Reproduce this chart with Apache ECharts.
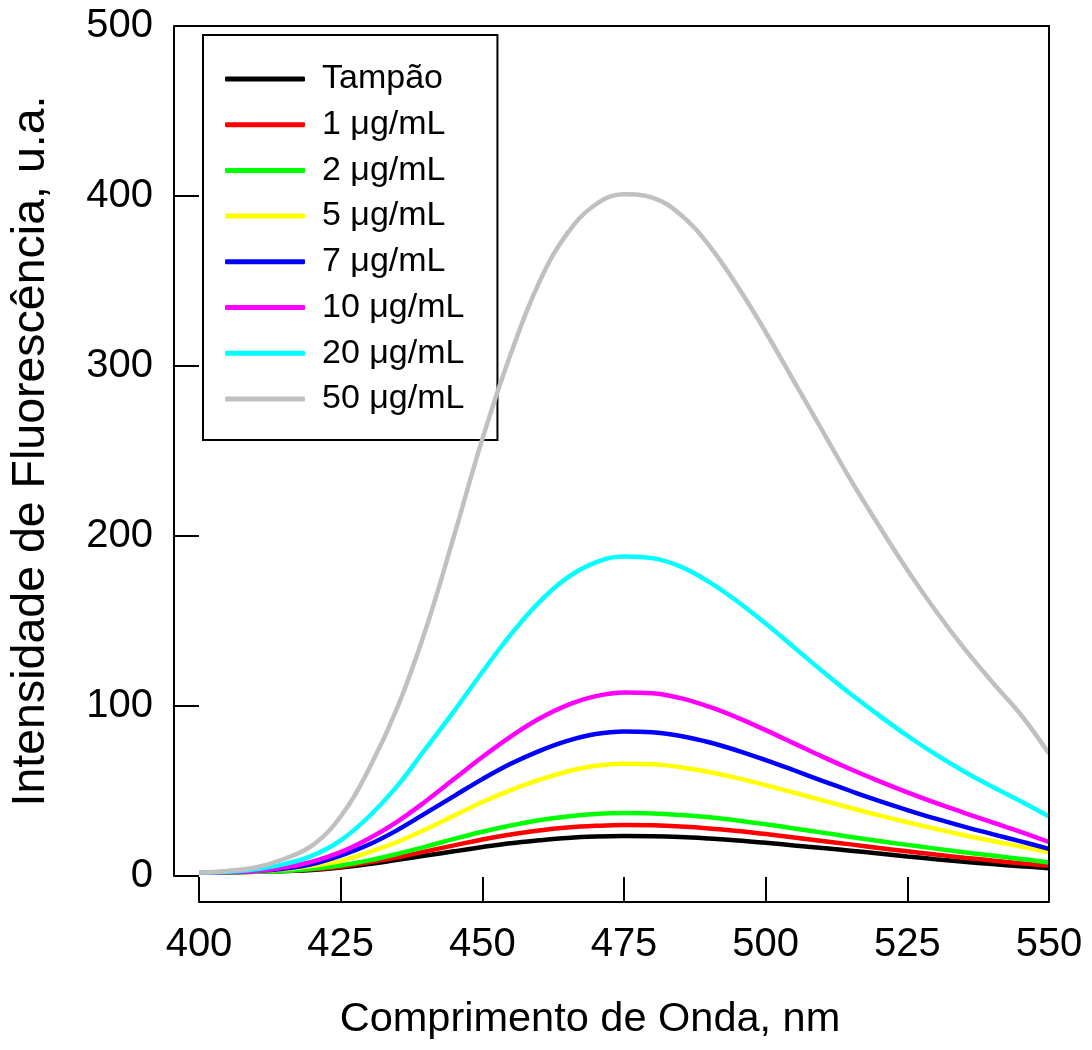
<!DOCTYPE html>
<html>
<head>
<meta charset="utf-8">
<script src="https://cdn.jsdelivr.net/npm/echarts@6/dist/echarts.min.js"></script>
<style>
  html, body { margin: 0; padding: 0; background: #fff; }
  #chart { width: 1092px; height: 1050px; }
</style>
</head>
<body>
<div id="chart"></div>
<script>
// Wavelengths (nm)
const wavelengths = [400,405,410,415,420,425,430,435,440,445,450,455,460,465,470,475,480,485,490,495,500,505,510,515,520,525,530,535,540,545,550];

const seriesNames = ['Tampão','1 μg/mL','2 μg/mL','5 μg/mL','7 μg/mL','10 μg/mL','20 μg/mL','50 μg/mL'];
const seriesColors = ['#000000','#ff0000','#00ff00','#ffff00','#0000ff','#ff00ff','#00ffff','#c0c0c0'];

const tampao = [2,2.2,2.5,3,3.6,5,7,9.5,12,14.5,17,19.3,21,22.4,23.2,23.5,23.4,22.9,22,20.9,19.5,18,16.5,14.9,13.2,11.5,9.9,8.4,7,5.8,4.6];
const c1  = [2,2.2,2.5,3,4,5.5,8,11,14.5,18,21.5,24.4,26.8,28.5,29.5,30,29.8,29.1,28,26.5,24.7,22.7,20.6,18.6,16.5,14.5,12.6,10.8,9.1,7.5,6];
const c2  = [2,2.2,2.5,3,4.2,6.2,9.2,13,17.3,21.8,26,29.7,32.8,35,36.4,37,36.8,35.9,34.5,32.6,30.4,28,25.5,23,20.6,18.3,16.1,14,12,10,8];
const c5  = [2,2.3,3,4,6,9,14,20,27.5,35.5,43.5,50.5,56.5,61.5,64.8,66,65.7,64,61.2,57.6,53.4,49,44.5,40,35.7,31.6,27.7,24,20.6,17.3,14];
const c7  = [2,2.3,3,4.3,7,12,18.5,27,37,47,57,66,73.5,79.5,83.5,85,84.6,82.4,78.7,73.8,68.2,62.2,56,50,44.2,38.8,33.7,29,24.6,20.4,16];
const c10 = [2,2.3,3,5,8.5,14,22,32,44,57,70,82,92.5,100.5,105.8,108,107.5,104.6,99.6,93.2,85.8,78,70.2,62.8,55.8,49.2,43,37.2,31.5,26,20];
const c20 = [2,2.5,4,7,12,21,35,53,75,97,120,142,161,175.5,184.5,188,187,182,173,161.5,148.5,134.5,120.5,107,94.5,82.5,71.5,61.5,52.5,44,35];
const c50 = [2,3,5,10,18,35,63,99,145,200,257,307,349,378,395,401,399,389,371,347,320,291,262,233,206,180,156,134,114,95,72];

const seriesValues = [tampao, c1, c2, c5, c7, c10, c20, c50];

const xTicks = { min: 400, max: 550, interval: 25 };
const yTicks = { min: 0, max: 500, interval: 100 };

const FONT = '"Liberation Sans", Arial, Helvetica, sans-serif';

const chart = echarts.init(document.getElementById('chart'), null, { renderer: 'canvas' });

const series = seriesNames.map((name, i) => ({
  name: name,
  type: 'line',
  data: wavelengths.map((w, j) => [w, seriesValues[i][j]]),
  smooth: 0.4,
  symbol: 'none',
  showSymbol: false,
  lineStyle: { color: seriesColors[i], width: 4.5 },
  itemStyle: { color: seriesColors[i] },
  z: 2 + i,
  animation: false
}));

const option = {
  animation: false,
  backgroundColor: '#ffffff',
  grid: { left: 198, right: 43, top: 26, bottom: 174, containLabel: false },
  legend: {
    left: 203,
    top: 35,
    orient: 'vertical',
    icon: 'roundRect',
    itemWidth: 80,
    itemHeight: 5,
    itemGap: 11.7,
    padding: [27, 33, 24, 22],
    borderColor: '#000',
    borderWidth: 2,
    borderRadius: 0,
    backgroundColor: '#fff',
    data: seriesNames,
    textStyle: { fontFamily: FONT, fontSize: 34, lineHeight: 34, color: '#000', padding: [0, 0, 0, 12] }
  },
  xAxis: {
    type: 'value',
    min: xTicks.min, max: xTicks.max, interval: xTicks.interval,
    position: 'bottom',
    offset: 26,
    axisLine: { show: true, onZero: false, lineStyle: { color: '#000', width: 2 } },
    axisTick: { show: true, inside: true, length: 25, lineStyle: { color: '#000', width: 2 } },
    axisLabel: { fontFamily: FONT, fontSize: 40, color: '#000', margin: 23 },
    splitLine: { show: false },
    name: 'Comprimento de Onda, nm',
    nameLocation: 'middle',
    nameGap: 97,
    nameTextStyle: { fontFamily: FONT, fontSize: 41.5, color: '#000', padding: [0, 68, 0, 0] }
  },
  yAxis: {
    type: 'value',
    min: yTicks.min, max: yTicks.max, interval: yTicks.interval,
    position: 'left',
    offset: 25,
    axisLine: { show: true, onZero: false, lineStyle: { color: '#000', width: 2 } },
    axisTick: { show: true, inside: true, length: 25, lineStyle: { color: '#000', width: 2 } },
    axisLabel: { fontFamily: FONT, fontSize: 40, color: '#000', margin: 21 },
    splitLine: { show: false },
    name: 'Intensidade de Fluorescência, u.a.',
    nameLocation: 'middle',
    nameRotate: 90,
    nameGap: 119,
    nameTextStyle: { fontFamily: FONT, fontSize: 46.5, color: '#000' }
  },
  series: series
};

chart.setOption(option);

// Frame: top edge and right edge, positioned from the axes' own pixel scale
const pTopRight = chart.convertToPixel({ gridIndex: 0 }, [xTicks.max, yTicks.max]);
const pBottomRight = chart.convertToPixel({ gridIndex: 0 }, [xTicks.max, yTicks.min]);
const pTopLeft = chart.convertToPixel({ gridIndex: 0 }, [xTicks.min, yTicks.max]);
const yOff = option.yAxis.offset, xOff = option.xAxis.offset;
chart.setOption({
  graphic: [{
    type: 'polyline',
    z: 100,
    shape: { points: [[pTopLeft[0] - yOff, pTopLeft[1]], [pTopRight[0], pTopRight[1]], [pBottomRight[0], pBottomRight[1] + xOff]] },
    style: { stroke: '#000', lineWidth: 2, fill: null }
  }]
});
</script>
</body>
</html>
